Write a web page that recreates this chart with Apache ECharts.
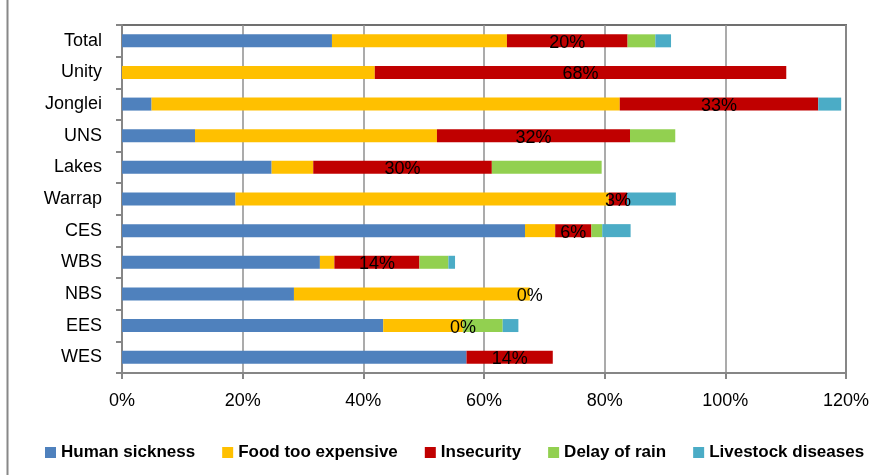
<!DOCTYPE html>
<html>
<head>
<meta charset="utf-8">
<script src="https://cdn.jsdelivr.net/npm/echarts@6/dist/echarts.min.js"></script>
<style>
	html, body { margin: 0; padding: 0; background: #fff; }
	#chart { width: 875px; height: 475px; }
</style>
</head>
<body>
<div id="chart"></div>
<script>
	'use strict'
	var categories = ['Total', 'Unity', 'Jonglei', 'UNS', 'Lakes', 'Warrap', 'CES', 'WBS', 'NBS', 'EES', 'WES'];
	var humanSickness = [34.8, 0, 4.9, 12.1, 24.8, 18.8, 66.8, 32.8, 28.5, 43.3, 57.1];
	var foodTooExpensive = [29.0, 41.9, 77.6, 40.1, 6.9, 61.9, 5.0, 2.4, 39.1, 13.2, 0];
	var insecurity = [20.0, 68.2, 32.9, 32.0, 29.6, 3.0, 6.0, 14.1, 0, 0, 14.3];
	var delayOfRain = [4.6, 0, 0, 7.5, 18.2, 0, 1.8, 4.8, 0, 6.6, 0];
	var livestockDiseases = [2.6, 0, 3.8, 0, 0, 8.1, 4.7, 1.1, 0, 2.6, 0];
	var xTicks = { min: 0, max: 120, interval: 20 };

	var font = '"Liberation Sans", Arial, sans-serif';

	/*--stacked bar--*/
	function barSeries(name, data, color, withLabel) {
		var s = {
			name: name,
			type: 'bar',
			stack: 'total',
			barWidth: 13,
			data: data,
			itemStyle: {
				color: color
			}
		};
		if (withLabel) {
			s.label = {
				show: true,
				position: 'inside',
				offset: [0, 2],
				color: '#000',
				fontSize: 18,
				fontFamily: font,
				formatter: function(p) {
					return Math.round(p.value) + '%';
				}
			};
		}
		return s;
	}

	var chart = echarts.init(document.getElementById('chart'));
	var option = {
		animation: false,
		grid: {
			show: true,
			left: 122,
			right: 29,
			top: 25,
			bottom: 102,
			borderColor: '#707070',
			borderWidth: 2,
			backgroundColor: 'transparent'
		},
		legend: {
			left: 45,
			top: 444,
			padding: 0,
			icon: 'rect',
			itemWidth: 11,
			itemHeight: 11,
			itemGap: 27,
			textStyle: {
				fontFamily: font,
				fontSize: 17,
				fontWeight: 'bold',
				color: '#000'
			}
		},
		xAxis: {
			type: 'value',
			min: xTicks.min,
			max: xTicks.max,
			interval: xTicks.interval,
			axisLine: {
				show: true,
				lineStyle: { color: '#868686', width: 2 }
			},
			axisTick: {
				show: true,
				length: 6,
				lineStyle: { color: '#868686', width: 2 }
			},
			axisLabel: {
				formatter: '{value}%',
				fontFamily: font,
				fontSize: 18,
				color: '#000',
				margin: 19
			},
			splitLine: {
				show: true,
				lineStyle: { color: '#8f8f8f', width: 1.5 }
			}
		},
		yAxis: {
			type: 'category',
			inverse: true,
			data: categories,
			axisLine: {
				show: true,
				lineStyle: { color: '#868686', width: 2 }
			},
			axisTick: {
				show: true,
				length: 6,
				lineStyle: { color: '#868686', width: 2 }
			},
			axisLabel: {
				fontFamily: font,
				fontSize: 18,
				color: '#000',
				margin: 20
			}
		},
		series: [
			barSeries('Human sickness', humanSickness, '#4f81bd'),
			barSeries('Food too expensive', foodTooExpensive, '#ffc000'),
			barSeries('Insecurity', insecurity, '#c00000', true),
			barSeries('Delay of rain', delayOfRain, '#92d050'),
			barSeries('Livestock diseases', livestockDiseases, '#4bacc6')
		],
		graphic: [{
			type: 'line',
			shape: { x1: 7.5, y1: 0, x2: 7.5, y2: 475 },
			style: { stroke: '#888', lineWidth: 2 }
		}]
	};
	chart.setOption(option);
	/*--stacked bar--*/
</script>
</body>
</html>
